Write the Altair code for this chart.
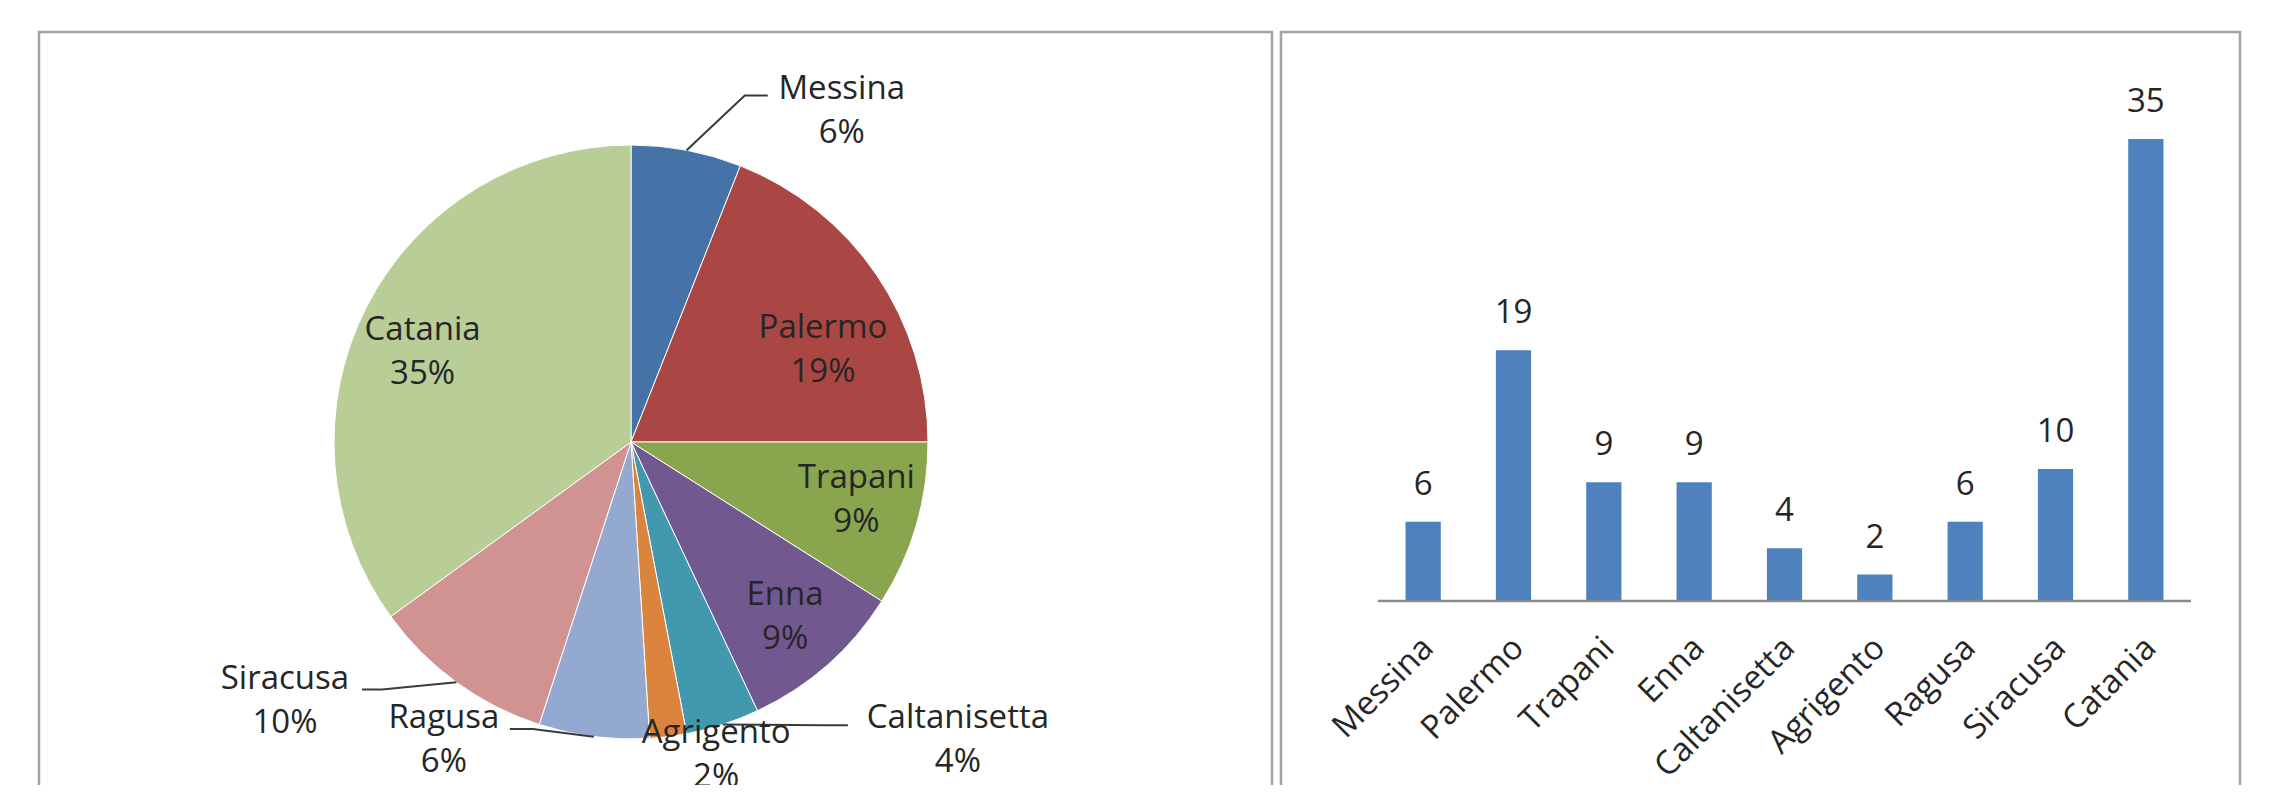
import altair as alt
import pandas as pd
import numpy as np

# ---------------- data ----------------
cities = ["Messina", "Palermo", "Trapani", "Enna", "Caltanisetta",
          "Agrigento", "Ragusa", "Siracusa", "Catania"]
values = [6, 19, 9, 9, 4, 2, 6, 10, 35]
percent_labels = ["6%", "19%", "9%", "9%", "4%", "2%", "6%", "10%", "35%"]
slice_colors = ["#4572A7", "#AA4643", "#89A54E", "#71588F", "#4198AF",
                "#DB843D", "#93A9CF", "#D19392", "#B9CD96"]
bar_color = "#4F81BD"

# ---------------- layout constants ----------------
OFF = 8
W, H = 2277 - 2 * OFF, 793 - 2 * OFF
FONT = "Open Sans"
FS = 33
LINE_H = 44
PIE_CX, PIE_CY, PIE_R = 631 - OFF, 442 - OFF, 297
# label radius along the slice's mid angle and extra nudge (px)
LABEL_R = [340, 214, 243, 233, 320, 320, 320, 320, 226]
LABEL_NUDGE = [(147, 3), (15, 28), (-8, -10), (0, 0), (228, -6),
               (45, -4), (-147, -19), (-158, 0), (-7, 13)]
# leader lines: (end offset from label anchor, elbow offset from end)
LEADERS = {
    "Messina": ((-74, -15.5), (-23, 0)),
    "Siracusa": ((77, -11.5), (20, 0)),
    "Ragusa": ((66, -11.5), (23, 0)),
    "Caltanisetta": ((-110, -15), (-25, 0)),
}
BAR_X_RANGE = [1378 - OFF, 2191 - OFF]
BAR_Y_RANGE = [601 - OFF, 139 - OFF]
AXIS_LABEL_Y = BAR_Y_RANGE[0] + 42
AXIS_LABEL_DX = 5

# ---------------- derived tables ----------------
total = sum(values)
frac = [v / total for v in values]
cum = np.cumsum([0] + frac[:-1])
mid = [(c + f / 2) * 2 * np.pi for c, f in zip(cum, frac)]

pie_df = pd.DataFrame({"city": cities, "value": values, "idx": list(range(len(cities)))})

lx, ly = [], []
for a, r, (nx, ny) in zip(mid, LABEL_R, LABEL_NUDGE):
    lx.append(PIE_CX + r * np.sin(a) + nx)
    ly.append(PIE_CY - r * np.cos(a) + ny)
lab_df = pd.DataFrame({"city": cities,
                       "label": [f"{c}\n{p}" for c, p in zip(cities, percent_labels)],
                       "lx": lx,
                       # first line is drawn at the anchor: lift block so it is centred
                       "ly": [v - LINE_H / 2 for v in ly]})

rows = []
for i, c in enumerate(cities):
    if c not in LEADERS:
        continue
    (ex, ey), (bx, by) = LEADERS[c]
    sx = PIE_CX + PIE_R * np.sin(mid[i])
    sy = PIE_CY - PIE_R * np.cos(mid[i])
    endx, endy = lx[i] + ex, ly[i] + ey
    rows += [{"city": c, "pt": 0, "x": sx, "y": sy},
             {"city": c, "pt": 1, "x": endx + bx, "y": endy + by},
             {"city": c, "pt": 2, "x": endx, "y": endy}]
lead_df = pd.DataFrame(rows)

bar_df = pd.DataFrame({"city": cities, "value": values})

# ---------------- marks ----------------
one = pd.DataFrame({"a": [0]})
frame_left = alt.Chart(one).mark_rect(fill="white", stroke="#a3a3a3", strokeWidth=2.5).encode(
    x=alt.value(39 - OFF), x2=alt.value(1272 - OFF), y=alt.value(32 - OFF), y2=alt.value(H + 20))
frame_right = alt.Chart(one).mark_rect(fill="white", stroke="#a3a3a3", strokeWidth=2.5).encode(
    x=alt.value(1281 - OFF), x2=alt.value(2240 - OFF), y=alt.value(32 - OFF), y2=alt.value(H + 20))

arc = alt.Chart(pie_df).mark_arc(outerRadius=PIE_R, stroke="white", strokeWidth=1).encode(
    theta=alt.Theta("value:Q", stack=True),
    color=alt.Color("city:N", scale=alt.Scale(domain=cities, range=slice_colors), legend=None),
    order=alt.Order("idx:Q"),
    x=alt.value(PIE_CX),
    y=alt.value(PIE_CY),
)

leaders = alt.Chart(lead_df).mark_line(color="#3a3a3a", strokeWidth=2).encode(
    x=alt.X("x:Q", scale=None, axis=None),
    y=alt.Y("y:Q", scale=None, axis=None),
    detail="city:N",
    order="pt:Q",
)

pie_labels = alt.Chart(lab_df).mark_text(
    font=FONT, fontSize=FS, lineBreak="\n", lineHeight=LINE_H, color="#262626",
    align="center", baseline="middle").encode(
    x=alt.X("lx:Q", scale=None, axis=None),
    y=alt.Y("ly:Q", scale=None, axis=None),
    text="label:N",
)

xscale = alt.Scale(domain=cities, range=BAR_X_RANGE, paddingInner=0.61, paddingOuter=0.305)
yscale = alt.Scale(domain=[0, 35], range=BAR_Y_RANGE)

bars = alt.Chart(bar_df).mark_bar(color=bar_color).encode(
    x=alt.X("city:N", scale=xscale, axis=None),
    y=alt.Y("value:Q", scale=yscale, axis=None),
)
bar_text = alt.Chart(bar_df).mark_text(
    font=FONT, fontSize=FS, color="#262626", baseline="middle", dy=-37).encode(
    x=alt.X("city:N", scale=xscale, axis=None),
    y=alt.Y("value:Q", scale=yscale, axis=None),
    text="value:Q",
)
axis_line = alt.Chart(one).mark_rule(color="#8a8a8a", strokeWidth=2.5).encode(
    x=alt.value(BAR_X_RANGE[0]), x2=alt.value(BAR_X_RANGE[1]), y=alt.value(BAR_Y_RANGE[0]))
axis_labels = alt.Chart(bar_df).mark_text(
    font=FONT, fontSize=FS, color="#262626", angle=315, align="right",
    baseline="middle", xOffset=AXIS_LABEL_DX).encode(
    x=alt.X("city:N", scale=xscale, axis=None),
    y=alt.value(AXIS_LABEL_Y),
    text="city:N",
)
bar_layer = alt.layer(bars, bar_text, axis_labels)

chart = alt.layer(
    frame_left, frame_right, arc, leaders, pie_labels, bar_layer, axis_line
).resolve_scale(
    x="independent", y="independent"
).properties(
    width=W, height=H, autosize=alt.AutoSizeParams(type="none"), padding=0,
    background="white",
).configure_view(stroke=None)

chart.save("out.html", embed_options={"renderer": "svg", "actions": False})
